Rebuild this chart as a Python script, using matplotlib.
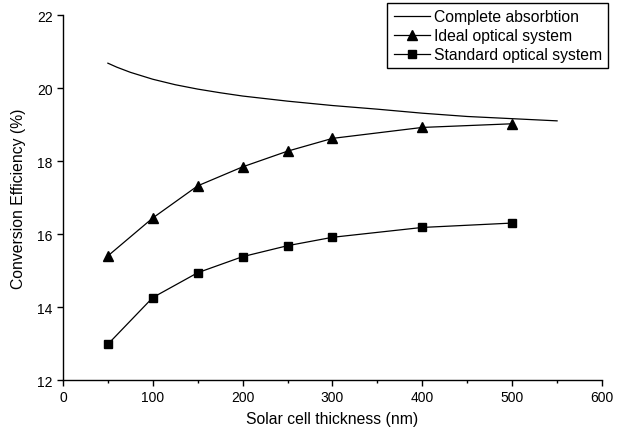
import matplotlib
matplotlib.use("Agg")
import matplotlib.pyplot as plt
from matplotlib.ticker import MultipleLocator

plt.rcParams['font.family'] = ['Liberation Sans', 'DejaVu Sans']

complete_x = [50, 60, 75, 100, 125, 150, 175, 200, 250, 300, 350, 400, 450, 500, 550]
complete_y = [20.68, 20.57, 20.43, 20.24, 20.09, 19.97, 19.87, 19.78, 19.64, 19.52,
              19.42, 19.31, 19.22, 19.16, 19.10]

thickness = [50, 100, 150, 200, 250, 300, 400, 500]
ideal = [15.40, 16.44, 17.32, 17.84, 18.27, 18.62, 18.92, 19.02]
standard = [12.98, 14.26, 14.94, 15.38, 15.68, 15.91, 16.18, 16.30]

labels = ["Complete absorbtion", "Ideal optical system", "Standard optical system"]

fig = plt.figure(figsize=(6.21, 4.35), dpi=100)
ax = fig.add_axes([0.1014, 0.1241, 0.868, 0.8391])

ax.plot(complete_x, complete_y, color='black', lw=0.9, label=labels[0])
ax.plot(thickness, ideal, color='black', lw=0.9, marker='^', markersize=7.5, label=labels[1])
ax.plot(thickness, standard, color='black', lw=0.9, marker='s', markersize=6, label=labels[2])

ax.set_xlim(0, 600)
ax.set_ylim(12, 22)
ax.xaxis.set_major_locator(MultipleLocator(100))
ax.xaxis.set_minor_locator(MultipleLocator(50))
ax.yaxis.set_major_locator(MultipleLocator(2))
for s in ['top', 'right']:
    ax.spines[s].set_visible(False)
for s in ['left', 'bottom']:
    ax.spines[s].set_linewidth(1.0)
ax.tick_params(axis='both', which='major', direction='out', length=4, width=1, labelsize=10)
ax.tick_params(axis='x', which='minor', direction='out', length=2.5, width=1)
ax.set_xlabel("Solar cell thickness (nm)", fontsize=11.3, labelpad=5)
ax.set_ylabel("Conversion Efficiency (%)", fontsize=11.3, labelpad=8)

leg = fig.legend(loc='upper right', bbox_to_anchor=(0.979, 0.991), fontsize=11.3,
                 frameon=True, fancybox=False, edgecolor='black', framealpha=1,
                 handlelength=2.3, handletextpad=0.25, labelspacing=0.25,
                 borderpad=0.4, borderaxespad=0)
leg.get_frame().set_linewidth(1.0)

fig.savefig("out.png", dpi=100)
